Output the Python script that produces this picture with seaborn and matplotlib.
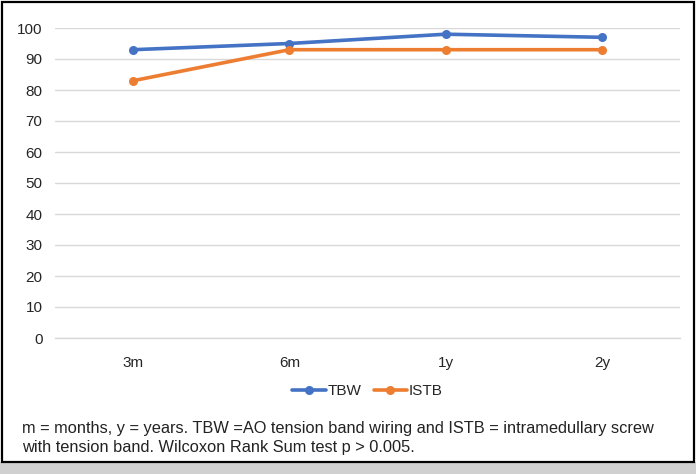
import matplotlib
matplotlib.use("Agg")
import matplotlib.pyplot as plt
from matplotlib.patches import Rectangle
import pandas as pd
import seaborn as sns

# follow-up time points and outcome scores
TIMEPOINTS = ["3m", "6m", "1y", "2y"]
TBW = [93, 95, 98, 97]
ISTB = [83, 93, 93, 93]

Y_TICKS = list(range(0, 101, 10))
CAPTION = ("m = months, y = years. TBW =AO tension band wiring and ISTB = intramedullary screw\n"
           "with tension band. Wilcoxon Rank Sum test p > 0.005.")

COLORS = {"TBW": "#4472C4", "ISTB": "#ED7D31"}


def build_frame():
    rows = []
    for name, values in (("TBW", TBW), ("ISTB", ISTB)):
        for pos, (tp, val) in enumerate(zip(TIMEPOINTS, values)):
            rows.append({"series": name, "pos": pos, "time": tp, "value": val})
    return pd.DataFrame(rows)


def main():
    sns.set_theme(style="white")
    plt.rcParams["font.family"] = ["Liberation Sans", "DejaVu Sans"]

    df = build_frame()
    fig = plt.figure(figsize=(6.96, 4.74), dpi=100)
    ax = fig.add_axes([55 / 696, 1 - 338 / 474, 625 / 696, 310 / 474])

    sns.lineplot(
        data=df, x="pos", y="value", hue="series", hue_order=["TBW", "ISTB"],
        palette=COLORS, marker="o", markersize=6.5, markeredgewidth=0,
        linewidth=2.6, ax=ax, legend=True,
    )

    ax.set_xlim(-0.5, len(TIMEPOINTS) - 0.5)
    ax.set_ylim(0, 100)
    ax.set_yticks(Y_TICKS)
    ax.set_xticks(range(len(TIMEPOINTS)))
    ax.set_xticklabels(TIMEPOINTS)
    ax.set_xlabel("")
    ax.set_ylabel("")
    ax.grid(axis="y", color="#d9d9d9", linewidth=1.0)
    ax.set_axisbelow(True)
    for side in ("top", "right", "left"):
        ax.spines[side].set_visible(False)
    ax.spines["bottom"].set_color("#d9d9d9")
    ax.spines["bottom"].set_linewidth(1.0)
    ax.tick_params(axis="both", length=0, labelsize=11, colors="#262626")
    ax.tick_params(axis="x", pad=13)
    ax.tick_params(axis="y", pad=9)

    handles, labels = ax.get_legend_handles_labels()
    ax.legend(handles, labels, loc="center", bbox_to_anchor=(0.5, -0.172),
              ncol=2, frameon=False, fontsize=11, handlelength=2.2,
              handletextpad=0.1, columnspacing=0.8)

    fig.text(22 / 696, 1 - 438 / 474, CAPTION, fontsize=11.8, color="#222222",
             ha="left", va="center", linespacing=1.35)

    # grey strip at the bottom and the black frame round the figure
    fig.patches.append(Rectangle((0, 0), 1, 12 / 474, transform=fig.transFigure,
                                 facecolor="#d0d0d0", edgecolor="none", zorder=0))
    fig.patches.append(Rectangle((2 / 696, 12 / 474), 692 / 696, 460 / 474,
                                 transform=fig.transFigure, facecolor="none",
                                 edgecolor="black", linewidth=1.6, zorder=5))

    fig.savefig("out.png", dpi=100)
    plt.close(fig)


if __name__ == "__main__":
    main()
